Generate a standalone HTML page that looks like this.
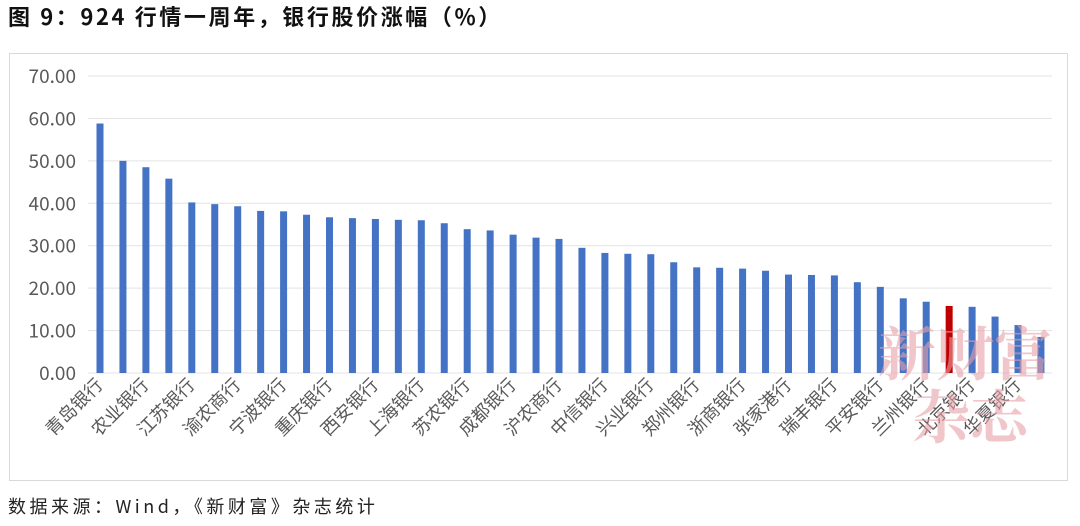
<!DOCTYPE html>
<html><head><meta charset="utf-8"><style>
body{margin:0;width:1080px;height:526px;background:#fff;overflow:hidden}
svg{display:block}
</style></head><body>
<svg id="s" width="1080" height="526" xmlns="http://www.w3.org/2000/svg" font-family="Noto Sans CJK SC, sans-serif">
<text x="8" y="25" font-size="22" font-weight="bold" fill="#111" letter-spacing="2.6" font-family="Noto Sans CJK SC, sans-serif">图 9：924 行情一周年，银行股价涨幅（%）</text>
<rect x="9.5" y="53.5" width="1058" height="427" fill="none" stroke="#d9d9d9"/>
<g id="g"></g>
<text x="8" y="513" font-size="18" fill="#222" letter-spacing="3.5" font-family="Noto Sans CJK SC, sans-serif">数据来源：Wind，《新财富》杂志统计</text>
</svg>
<script>
const v=[58.8,50,48.5,45.8,40.2,39.8,39.3,38.2,38.1,37.3,36.7,36.5,36.3,36.1,36.0,35.3,33.9,33.6,32.6,31.9,31.6,29.5,28.3,28.1,28.0,26.1,24.9,24.8,24.6,24.1,23.2,23.1,23.0,21.4,20.3,17.6,16.8,15.8,15.6,13.3,11.3,8.5];
const L=["青岛银行","农业银行","江苏银行","渝农商行","宁波银行","重庆银行","西安银行","上海银行","苏农银行","成都银行","沪农商行","中信银行","兴业银行","郑州银行","浙商银行","张家港行","瑞丰银行","平安银行","兰州银行","北京银行","华夏银行"];
let h='';const y0=373,k=4.243;
for(let i=0;i<=7;i++){const y=y0-i*10*k;h+=`<line x1="88" x2="1052" y1="${y}" y2="${y}" stroke="#e3e3e3" stroke-width="1"/><text x="76" y="${y+7}" font-size="19" fill="#595959" text-anchor="end">${(i*10).toFixed(2)}</text>`;}
v.forEach((d,i)=>{const x=100+i*22.95;h+=`<rect x="${x-3.5}" y="${y0-d*k}" width="7" height="${d*k}" fill="${i==37?'#c00000':'#4472c4'}"/>`;});
L.forEach((t,j)=>{const x=100+2*j*22.95+4;h+=`<text transform="translate(${x},386) rotate(-45)" font-size="18" fill="#595959" text-anchor="end">${t}</text>`;});
h+=`<text x="965" y="375" font-size="58" fill="#e8a0a8" fill-opacity="0.6" text-anchor="middle" font-family="Noto Serif CJK SC, serif" font-weight="bold">新财富</text>`;
h+=`<text x="970" y="438" font-size="58" fill="#e8a0a8" fill-opacity="0.6" text-anchor="middle" font-family="Noto Serif CJK SC, serif" font-weight="bold">杂志</text>`;
document.getElementById('g').innerHTML=h;
</script>
</body></html>
